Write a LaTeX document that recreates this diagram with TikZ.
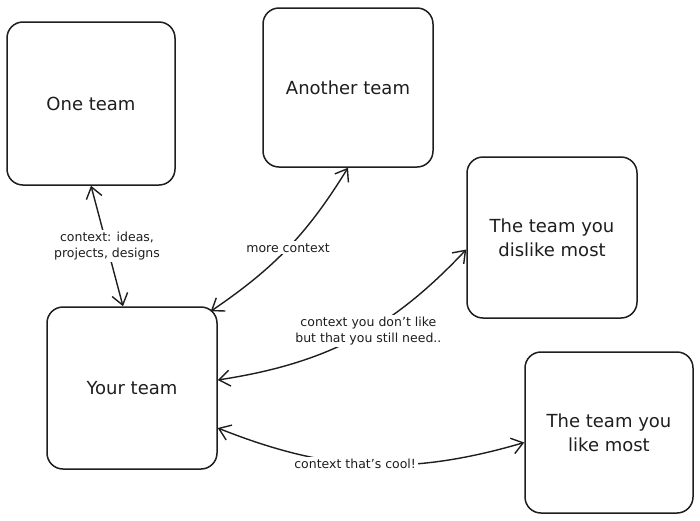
\documentclass[tikz,border=0pt]{standalone}
\usepackage{fontspec}
\setmainfont{DejaVu Sans}
\usetikzlibrary{arrows.meta}
\definecolor{ink}{HTML}{1E1E1E}
\begin{document}
\begin{tikzpicture}[x=1pt,y=-1pt,
  team/.style={draw=ink, line width=1.5pt, rounded corners=16pt, align=center,
    text=ink, font=\fontsize{18}{24}\selectfont, inner sep=0pt},
  link/.style={draw=ink, line width=1.4pt,
    {Straight Barb[length=11pt,width=16pt]}-{Straight Barb[length=11pt,width=16pt]}},
  lbl/.style={fill=white, align=center, inner sep=2pt, text=ink,
    font=\fontsize{12.5}{16}\selectfont}]
\path[use as bounding box, fill=white] (0,0) rectangle (700,520);

\node[team, minimum width=168pt, minimum height=163pt] (one) at (91,103.5) {One team};
\node[team, minimum width=170pt, minimum height=159pt] (another) at (348,87.5) {Another team};
\node[team, minimum width=170pt, minimum height=161pt] (dislike) at (552,237.5) {The team you\\dislike most};
\node[team, minimum width=170pt, minimum height=162pt] (your) at (132,388) {Your team};
\node[team, minimum width=168pt, minimum height=161pt] (like) at (609,432.5) {The team you\\like most};

\draw[link] (one.south) -- node[lbl]{context: ideas,\\projects, designs} ([xshift=-9pt]your.north);
\draw[link] (another.south) to[bend left=12] node[lbl]{more context} ([shift={(-7pt,-5pt)}]your.north east);
\draw[link] ([yshift=-12pt]dislike.west) to[bend left=19] node[lbl,pos=0.44]{context you don't like\\but that you still need..} ([yshift=8pt]your.east);
\draw[link] ([yshift=-40pt]your.east) to[bend right=19] node[lbl,pos=0.45]{context that's cool!} ([yshift=-10pt]like.west);
\end{tikzpicture}
\end{document}
